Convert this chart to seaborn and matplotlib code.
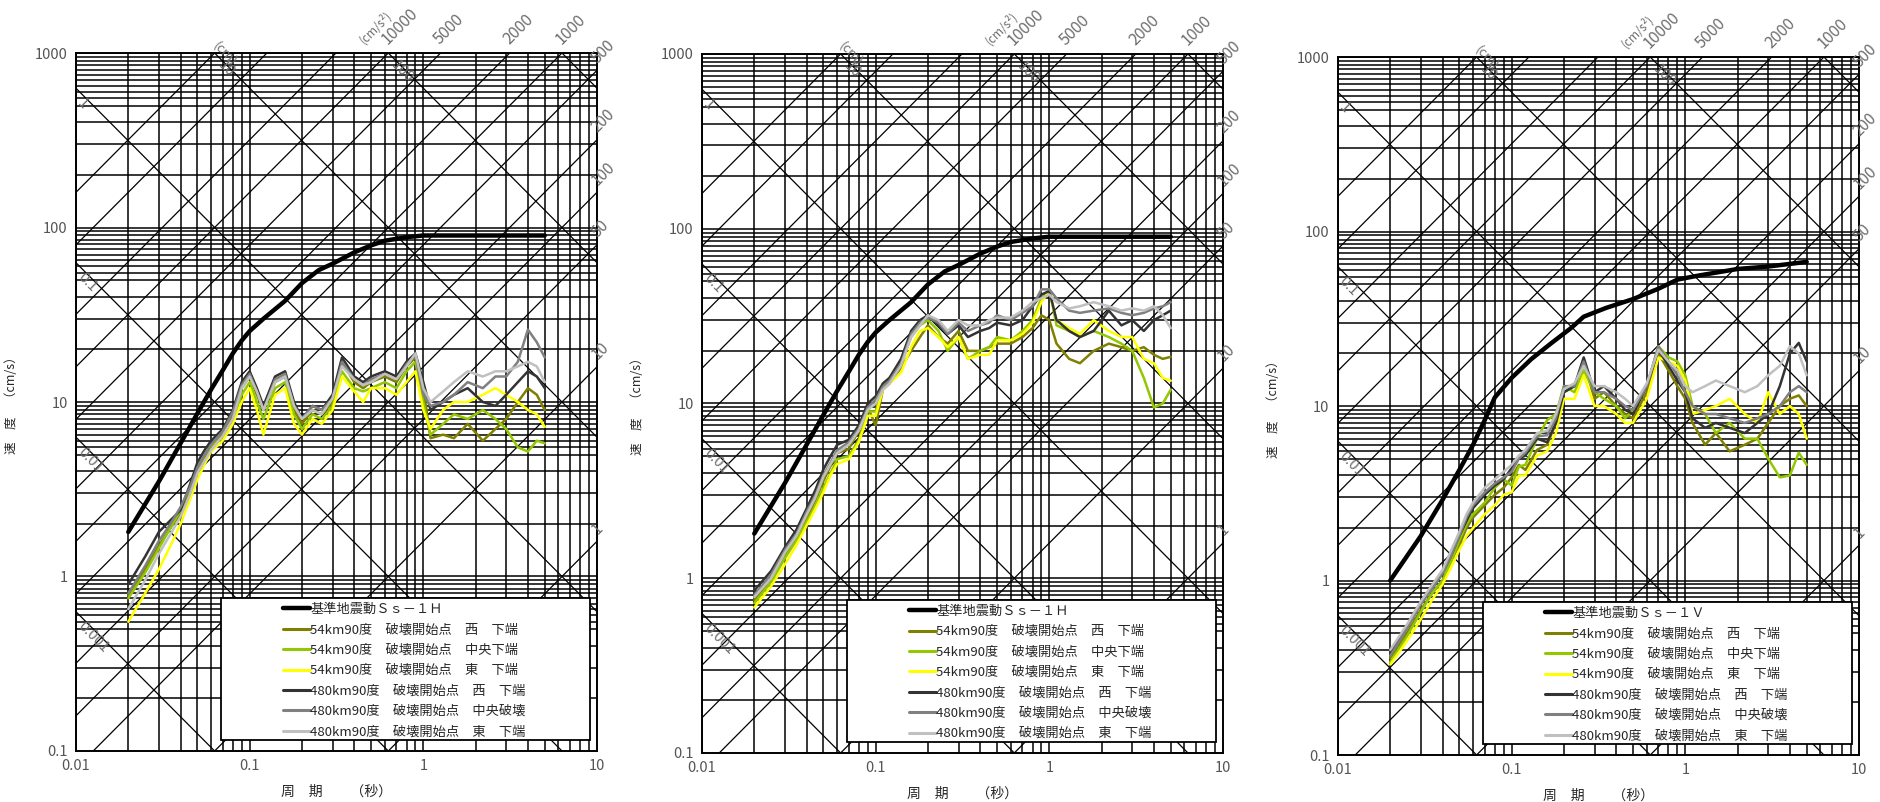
import numpy as np
import pandas as pd
import matplotlib
matplotlib.use("Agg")
import matplotlib.pyplot as plt
from matplotlib.lines import Line2D
from matplotlib.patches import Rectangle
import seaborn as sns

# =====================================================
# DATA
# =====================================================
periods = [0.02, 0.025, 0.03, 0.035, 0.04, 0.045, 0.05, 0.055, 0.06, 0.07, 0.08, 0.09,
           0.1, 0.11, 0.12, 0.14, 0.16, 0.18, 0.2, 0.23, 0.26, 0.3, 0.34, 0.4, 0.45,
           0.5, 0.6, 0.7, 0.8, 0.9, 1.0, 1.1, 1.3, 1.5, 1.8, 2.2, 2.6, 3.0, 3.5, 4.0, 4.5, 5.0]

ss_h_period = [0.02, 0.03, 0.04, 0.05, 0.06, 0.07, 0.08, 0.09, 0.1, 0.12, 0.16, 0.2, 0.25,
               0.3, 0.4, 0.5, 0.6, 0.8, 1.0, 2.0, 5.0]
ss_h_vel = [1.8, 3.5, 5.8, 8.6, 11.8, 15.2, 19, 22.5, 25.5, 30, 38, 48, 57,
            62, 72, 79, 84, 88, 90, 90, 90]

ss_v_period = [0.02, 0.03, 0.04, 0.05, 0.06, 0.07, 0.08, 0.1, 0.13, 0.17, 0.22, 0.26,
               0.35, 0.5, 0.7, 0.9, 1.2, 2.0, 3.0, 5.0]
ss_v_vel = [1.0, 1.8, 2.9, 4.3, 6.0, 8.3, 11.2, 14.5, 18.6, 23, 28, 32.5,
            36.5, 41, 47, 53, 56, 61, 63, 67]

series_names = ["54km90度　破壊開始点　西　下端",
                "54km90度　破壊開始点　中央下端",
                "54km90度　破壊開始点　東　下端",
                "480km90度　破壊開始点　西　下端",
                "480km90度　破壊開始点　中央破壊",
                "480km90度　破壊開始点　東　下端"]
series_colors = ["#808000", "#92c800", "#ffff00", "#333333", "#808080", "#c0c0c0"]

# panel 1 : horizontal
p1_olive = [0.78, 1.1, 1.5, 1.9, 2.3, 3.0, 4.0, 4.8, 5.5, 6.5, 8.5, 12, 14, 11, 9, 13, 14, 9, 7.5, 9, 8.5,
            10, 17, 13, 12, 13, 14, 13, 16, 18, 12, 6.2, 6.5, 6.2, 7.5, 6, 7, 8, 10, 12, 11, 9]
p1_green = [0.75, 1.05, 1.45, 1.9, 2.4, 3.2, 4.2, 5.0, 5.6, 6.3, 8, 11, 13, 10, 8, 12, 13, 8.5, 7, 8.5, 8,
            9.5, 15, 12, 11.5, 12, 13, 12, 15, 17, 10, 6.5, 7.5, 8.5, 8, 9, 8, 7, 5.5, 5.2, 6, 5.8]
p1_yellow = [0.55, 0.8, 1.1, 1.5, 2.0, 2.7, 3.6, 4.4, 5.2, 6, 7.5, 10, 12, 9, 6.5, 11, 12, 7.5, 6.5, 8, 7.5,
             9, 14, 11.5, 10, 12, 12, 11, 13, 15, 9, 7, 9, 10, 10, 11, 12, 11, 10, 9, 8.5, 7.2]
p1_black = [0.9, 1.3, 1.8, 2.1, 2.4, 3.3, 4.5, 5.3, 6, 7, 9, 13, 15, 12, 9.5, 14, 15, 10, 8, 9.5, 9,
            11, 18, 14, 13, 14, 15, 14, 17, 19, 13, 9, 10, 11, 12, 10, 9.5, 11, 13, 15, 14, 12]
p1_grey = [0.8, 1.15, 1.6, 2.0, 2.5, 3.2, 4.2, 5, 5.7, 6.8, 8.8, 12.5, 14.5, 11.5, 9, 13.5, 14.5, 9.5, 8, 9.5, 9,
           10.5, 17, 13.5, 12.5, 13.5, 14.5, 13.5, 16.5, 18.5, 11, 9.5, 10, 11, 13, 12, 14, 14, 17, 26, 22, 18]
p1_lgrey = [0.65, 0.95, 1.35, 1.75, 2.2, 2.9, 3.9, 4.6, 5.3, 6.4, 8, 12, 14, 11.5, 9, 13, 14, 9.5, 8, 9, 8.5,
            10.5, 16, 13.5, 12.5, 13, 14.5, 13.5, 16, 19, 12, 10, 11.5, 13, 15, 14, 15, 15, 16, 17, 16, 13]

# panel 2 : horizontal
p2_olive = [0.75, 1.0, 1.35, 1.7, 2.2, 2.8, 3.6, 4.4, 5.2, 5.5, 7, 9.5, 7.5, 12, 13, 16, 20, 24, 28, 24, 22,
            26, 20, 20, 21, 22, 22, 24, 27, 32, 30, 22, 18, 17, 20, 22, 21, 20, 21, 19, 18, 18.5]
p2_green = [0.72, 0.95, 1.3, 1.65, 2.1, 2.6, 3.3, 4, 4.8, 5, 6.2, 9, 9, 13, 14, 17, 24, 28, 30, 26, 20,
            24, 18, 20, 21, 24, 23, 26, 30, 40, 45, 28, 26, 24, 26, 24, 22, 20, 14, 9.5, 10, 12]
p2_yellow = [0.68, 0.9, 1.2, 1.55, 2.0, 2.5, 3.1, 3.9, 4.5, 4.8, 6, 8.5, 8.5, 12, 13, 15, 21, 26, 27, 24, 21,
             24, 18, 19, 19, 23, 23, 25, 29, 38, 44, 30, 27, 25, 30, 26, 24, 24, 18, 17, 14, 13.5]
p2_black = [0.85, 1.1, 1.5, 1.9, 2.5, 3.2, 4.2, 5, 5.8, 6.2, 7.5, 10, 11, 13, 14, 18, 26, 30, 32, 28, 25,
            28, 24, 26, 27, 29, 28, 30, 36, 42, 44, 30, 26, 24, 26, 34, 28, 30, 26, 30, 32, 34]
p2_grey = [0.8, 1.05, 1.45, 1.8, 2.4, 3.0, 3.9, 4.6, 5.4, 6, 7.2, 9.5, 10.5, 12.5, 13.5, 17, 25, 29, 31, 29, 25,
           29, 26, 28, 29, 32, 30, 33, 36, 45, 45, 40, 34, 33, 34, 35, 33, 32, 33, 35, 36, 38]
p2_lgrey = [0.78, 1.0, 1.4, 1.75, 2.3, 2.9, 3.8, 4.5, 5.2, 5.8, 7, 9.2, 10, 12, 13, 16.5, 24, 28, 32, 30, 26,
            30, 28, 28, 30, 31, 31, 34, 38, 40, 42, 38, 35, 36, 38, 36, 34, 35, 34, 36, 32, 27]

# panel 3 : vertical
p3_olive = [0.36, 0.5, 0.68, 0.85, 1.0, 1.3, 1.6, 2.0, 2.3, 2.7, 3.1, 3.4, 3.9, 4.6, 4.3, 5.6, 6.0, 8, 12, 13, 18,
            11, 12, 10, 9, 8.5, 12, 20, 16, 13, 11, 8, 6, 7, 5.5, 6, 6.5, 8, 10, 11, 11.5, 10]
p3_green = [0.34, 0.48, 0.66, 0.85, 1.0, 1.3, 1.7, 2.1, 2.4, 2.8, 3.4, 3.8, 3.5, 4.5, 4.6, 6.5, 8.3, 9, 13, 12, 16,
            12, 11, 10, 8.5, 9.5, 13, 22, 19, 18, 15, 10, 9, 7, 8, 6.5, 6.5, 5, 3.9, 4, 5.4, 4.6]
p3_yellow = [0.33, 0.45, 0.6, 0.78, 0.95, 1.2, 1.5, 1.8, 2.0, 2.4, 2.7, 3.1, 3.2, 4.0, 4.0, 5.2, 5.5, 7, 11, 11, 15,
             10, 10, 9, 8, 8, 11, 19, 18, 17, 14, 9, 9.5, 10, 11, 9, 8, 12, 9, 10, 9, 6.5]
p3_black = [0.38, 0.55, 0.75, 0.9, 1.1, 1.4, 1.8, 2.2, 2.6, 3.1, 3.5, 3.8, 4.4, 5.0, 5.2, 6.5, 6.2, 8, 12, 13, 19,
            12, 13, 11, 9.5, 9, 13, 21, 17, 14, 12, 8.5, 7.5, 8, 7.5, 7, 8, 9, 13, 20, 23, 18]
p3_grey = [0.37, 0.53, 0.73, 0.9, 1.1, 1.4, 1.8, 2.3, 2.7, 3.2, 3.6, 3.9, 4.2, 5.0, 5.4, 6.7, 6.8, 8.5, 13, 13, 18,
           12, 12, 11, 10, 9.5, 13, 22, 18, 15, 12, 10, 9, 9, 8.5, 8, 8.5, 9, 10, 12, 13, 12]
p3_lgrey = [0.4, 0.56, 0.76, 0.95, 1.15, 1.5, 1.9, 2.4, 2.8, 3.4, 3.8, 4.2, 4.6, 5.2, 5.6, 7, 7.2, 9, 12.5, 13.5, 17,
            13, 13, 12, 11, 10, 13.5, 21, 18, 16, 13, 12, 13, 14, 13, 12, 13, 15, 17, 22, 20, 15]

# tripartite guide lines
disp_levels = [0.001, 0.01, 0.1, 1, 10, 100, 1000]
acc_levels = [1, 10, 50, 100, 200, 500, 1000, 2000, 5000, 10000, 20000, 50000, 100000]
hgrid_fracs = [1, 0.95, 0.9, 0.85, 0.8, 0.75, 0.7, 0.65, 0.6, 0.55, 0.5, 0.4, 0.3, 0.2]

# =====================================================
# STYLE
# =====================================================
sns.set_theme(style="white")
plt.rcParams["font.family"] = ["Noto Sans CJK JP", "DejaVu Sans"]
LABEL_GREY = "#6e6e6e"


def draw_grid(ax):
    for k in [-2, -1, 0]:
        for m in range(1, 10):
            ax.axvline(m * 10.0 ** k, color="black", lw=1.1, zorder=1)
    for k in [0, 1, 2, 3]:
        for f in hgrid_fracs:
            ax.axhline(f * 10.0 ** k, color="black", lw=1.1, zorder=1)
    t = np.array([0.01, 10.0])
    for d in disp_levels:
        ax.plot(t, 2 * np.pi * d / t, color="black", lw=0.9, zorder=1)
    for a in acc_levels:
        ax.plot(t, a * t / (2 * np.pi), color="black", lw=0.9, zorder=1)


def draw_labels(ax):
    # displacement labels along the left edge
    for d, txt in [(1, "1"), (0.1, "0.1"), (0.01, "0.01"), (0.001, "0.001")]:
        v = 2 * np.pi * d / 0.0105
        ax.text(0.0112, v * 0.95, txt, rotation=-45, fontsize=10.5, color=LABEL_GREY,
                ha="left", va="top", rotation_mode="anchor")
    for d, txt in [(10, "10"), (100, "100")]:
        t = 2 * np.pi * d / 1000 * 1.15
        ax.text(t, 930, txt, rotation=-45, fontsize=10.5, color=LABEL_GREY,
                ha="left", va="top", rotation_mode="anchor")
    ax.text(2 * np.pi * 10 / 1000 * 0.95, 1070, "(cm)", rotation=-45, fontsize=9.5,
            color=LABEL_GREY, ha="left", va="bottom", rotation_mode="anchor")
    # acceleration labels above the top edge
    for a in [10000, 5000, 2000, 1000]:
        t = 2 * np.pi * 1000 / a
        ax.text(t * 1.03, 1070, str(a), rotation=45, fontsize=11.5, color=LABEL_GREY,
                ha="left", va="bottom", rotation_mode="anchor")
    ax.text(0.47, 1090, "(cm/s²)", rotation=45, fontsize=8.5, color=LABEL_GREY,
            ha="left", va="bottom", rotation_mode="anchor")
    # acceleration labels beyond the right edge
    for a in [500, 200, 100, 50, 10, 1]:
        v = a * 10 / (2 * np.pi)
        ax.text(10.5, v * 1.05, str(a), rotation=45, fontsize=11, color=LABEL_GREY,
                ha="left", va="bottom", rotation_mode="anchor")


def draw_panel(ax, ss_t, ss_v, ss_name, curves):
    ax.set_xscale("log")
    ax.set_yscale("log")
    draw_grid(ax)

    frames = []
    for name, vals in zip(series_names, curves):
        frames.append(pd.DataFrame({"period": periods, "vel": vals, "case": name}))
    df = pd.concat(frames, ignore_index=True)
    sns.lineplot(data=df, x="period", y="vel", hue="case", hue_order=series_names,
                 palette=series_colors, estimator=None, sort=False, lw=1.8,
                 legend=False, ax=ax, zorder=3)
    sns.lineplot(x=ss_t, y=ss_v, color="black", lw=3.2, estimator=None,
                 sort=False, ax=ax, zorder=4)

    ax.set_xlim(0.01, 10)
    ax.set_ylim(0.1, 1000)
    ax.set_xticks([0.01, 0.1, 1, 10], ["0.01", "0.1", "1", "10"])
    ax.set_yticks([0.1, 1, 10, 100, 1000], ["0.1", "1", "10", "100", "1000"])
    ax.minorticks_off()
    ax.tick_params(length=0, labelsize=10.5, labelcolor="#555555", pad=6)
    ax.set_xlabel("周　期　　（秒）", fontsize=10, labelpad=8)
    ax.set_ylabel("速　度　（cm/s）", fontsize=9, labelpad=12)
    for sp in ax.spines.values():
        sp.set_color("black")
        sp.set_linewidth(1.4)

    draw_labels(ax)

    # legend box
    ax.add_patch(Rectangle((0.278, 0.016), 0.709, 0.203, transform=ax.transAxes,
                           facecolor="white", edgecolor="black", lw=1.3, zorder=5))
    handles = [Line2D([], [], color="black", lw=3.2)]
    handles += [Line2D([], [], color=c, lw=2.2) for c in series_colors]
    labels = [ss_name] + series_names
    ax.legend(handles, labels, loc="upper left", bbox_to_anchor=(0.398, 0.212),
              frameon=False, fontsize=9.5, handlelength=2.0, handletextpad=0.05,
              labelspacing=0.56, borderpad=0, borderaxespad=0)
    ax.get_legend().set_zorder(6)


fig = plt.figure(figsize=(18.81, 8.02), dpi=100)
ax1 = fig.add_axes([0.0404, 0.0636, 0.2770, 0.8703])
ax2 = fig.add_axes([0.3732, 0.0611, 0.2770, 0.8716])
ax3 = fig.add_axes([0.7113, 0.0586, 0.2770, 0.8703])

draw_panel(ax1, ss_h_period, ss_h_vel, "基準地震動Ｓｓ－１Ｈ",
           [p1_olive, p1_green, p1_yellow, p1_black, p1_grey, p1_lgrey])
draw_panel(ax2, ss_h_period, ss_h_vel, "基準地震動Ｓｓ－１Ｈ",
           [p2_olive, p2_green, p2_yellow, p2_black, p2_grey, p2_lgrey])
draw_panel(ax3, ss_v_period, ss_v_vel, "基準地震動Ｓｓ－１Ｖ",
           [p3_olive, p3_green, p3_yellow, p3_black, p3_grey, p3_lgrey])

fig.savefig("out.png", dpi=100)
